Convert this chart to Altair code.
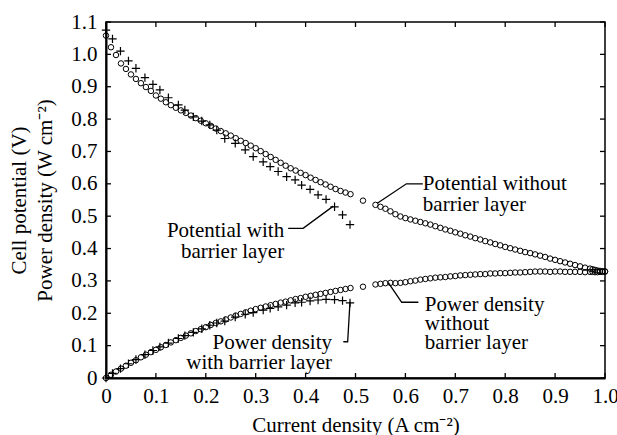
import altair as alt
import pandas as pd

# ---------------- data ----------------
# Without barrier layer (circles)
circ_x = [0.00, 0.01, 0.02, 0.03, 0.04, 0.05, 0.06, 0.07, 0.08, 0.09,
          0.10, 0.11, 0.12, 0.13, 0.14, 0.15, 0.16, 0.17, 0.18, 0.19,
          0.20, 0.21, 0.22, 0.23, 0.24, 0.25, 0.26, 0.27, 0.28, 0.29,
          0.30, 0.31, 0.32, 0.33, 0.34, 0.35, 0.36, 0.37, 0.38, 0.39,
          0.40, 0.41, 0.42, 0.43, 0.44, 0.45, 0.46, 0.47, 0.48, 0.49,
          0.515, 0.54,
          0.55, 0.56, 0.57, 0.58, 0.59,
          0.60, 0.61, 0.62, 0.63, 0.64, 0.65, 0.66, 0.67, 0.68, 0.69,
          0.70, 0.71, 0.72, 0.73, 0.74, 0.75, 0.76, 0.77, 0.78, 0.79,
          0.80, 0.81, 0.82, 0.83, 0.84, 0.85, 0.86, 0.87, 0.88, 0.89,
          0.90, 0.91, 0.92, 0.93, 0.94, 0.95, 0.96, 0.97,
          0.975, 0.98, 0.985, 0.99, 0.995, 1.00]
circ_v = [1.058, 1.022, 0.998, 0.972, 0.955, 0.938, 0.924, 0.911, 0.899, 0.887,
          0.873, 0.863, 0.852, 0.843, 0.835, 0.827, 0.819, 0.811, 0.803, 0.795,
          0.787, 0.779, 0.771, 0.763, 0.756, 0.749, 0.741, 0.733, 0.726, 0.718,
          0.710, 0.701, 0.692, 0.683, 0.674, 0.665, 0.656, 0.648, 0.641, 0.634,
          0.627, 0.619, 0.612, 0.605, 0.598, 0.591, 0.584, 0.578, 0.573, 0.568,
          0.548, 0.535,
          0.529, 0.523, 0.515, 0.506, 0.499,
          0.494, 0.490, 0.486, 0.482, 0.478, 0.474, 0.469, 0.464, 0.459, 0.455,
          0.450, 0.446, 0.441, 0.437, 0.432, 0.428, 0.423, 0.419, 0.414, 0.410,
          0.405, 0.401, 0.397, 0.393, 0.389, 0.386, 0.382, 0.378, 0.374, 0.369,
          0.365, 0.361, 0.357, 0.353, 0.349, 0.345, 0.341, 0.338,
          0.336, 0.334, 0.332, 0.331, 0.330, 0.329]
circ_p = [0.000, 0.010, 0.020, 0.029, 0.038, 0.047, 0.055, 0.064, 0.072, 0.080,
          0.087, 0.095, 0.102, 0.110, 0.117, 0.124, 0.131, 0.138, 0.145, 0.151,
          0.157, 0.164, 0.170, 0.175, 0.181, 0.187, 0.193, 0.198, 0.203, 0.208,
          0.213, 0.217, 0.221, 0.225, 0.229, 0.233, 0.236, 0.240, 0.244, 0.247,
          0.251, 0.254, 0.257, 0.260, 0.263, 0.266, 0.269, 0.272, 0.275, 0.278,
          0.282, 0.289,
          0.291, 0.293, 0.294, 0.293, 0.294,
          0.296, 0.299, 0.301, 0.304, 0.306, 0.308, 0.310, 0.311, 0.312, 0.314,
          0.315, 0.317, 0.318, 0.319, 0.320, 0.321, 0.321, 0.323, 0.323, 0.324,
          0.324, 0.325, 0.326, 0.326, 0.327, 0.328, 0.329, 0.329, 0.329, 0.328,
          0.329, 0.329, 0.328, 0.328, 0.328, 0.328, 0.327, 0.328,
          0.328, 0.327, 0.327, 0.328, 0.328, 0.329]

# With barrier layer (crosses)
cross_x = [0.000, 0.013, 0.029, 0.045, 0.060, 0.078, 0.094, 0.108, 0.125, 0.145,
           0.158, 0.175, 0.192, 0.208, 0.222, 0.238, 0.259, 0.279, 0.295, 0.315,
           0.329, 0.345, 0.362, 0.379, 0.392, 0.409, 0.425, 0.441, 0.458, 0.474,
           0.489]
cross_v = [1.075, 1.048, 1.010, 0.980, 0.957, 0.928, 0.907, 0.890, 0.866, 0.844,
           0.828, 0.807, 0.794, 0.782, 0.766, 0.740, 0.725, 0.705, 0.684, 0.668,
           0.653, 0.638, 0.622, 0.612, 0.596, 0.583, 0.566, 0.552, 0.529, 0.504,
           0.474]
cross_p = [0.000, 0.014, 0.029, 0.044, 0.057, 0.072, 0.085, 0.096, 0.108, 0.122,
           0.131, 0.141, 0.152, 0.163, 0.170, 0.176, 0.188, 0.197, 0.202, 0.210,
           0.215, 0.220, 0.225, 0.232, 0.234, 0.238, 0.241, 0.243, 0.242, 0.239,
           0.232]

x_ticks = [0.0, 0.1, 0.2, 0.3, 0.4, 0.5, 0.6, 0.7, 0.8, 0.9, 1.0]
y_ticks = [0.0, 0.1, 0.2, 0.3, 0.4, 0.5, 0.6, 0.7, 0.8, 0.9, 1.0, 1.1]

x_title = "Current density (A cm\u207b\u00b2)"
y_title = ["Cell potential (V)", "Power density (W cm\u207b\u00b2)"]

# annotations: text (lines split by \n), anchor in data coordinates (first baseline)
ann_text = ["Potential without\nbarrier layer",
            "Potential with\nbarrier layer",
            "Power density\nwith barrier layer",
            "Power density\nwithout\nbarrier layer"]
ann_x = [0.635, 0.357, 0.453, 0.639]
ann_y = [0.581, 0.437, 0.0896, 0.207]
ann_align = ["left", "right", "right", "left"]
ann_lh = [21, 21, 20, 19]

# leader lines
lead_id = [1, 1, 1, 2, 2, 2, 3, 3, 3, 4, 4, 4]
lead_ord = [0, 1, 2, 0, 1, 2, 0, 1, 2, 0, 1, 2]
lead_x = [0.635, 0.602, 0.5437, 0.365, 0.395, 0.4555, 0.4756, 0.4843, 0.489, 0.626, 0.5926, 0.5657]
lead_y = [0.600, 0.600, 0.540, 0.4626, 0.4626, 0.531, 0.112, 0.112, 0.236, 0.234, 0.234, 0.2945]

# ---------------- tables ----------------
circ_df = pd.DataFrame({"x": circ_x * 2, "y": circ_v + circ_p})
cross_df = pd.DataFrame({"x": cross_x * 2, "y": cross_v + cross_p})
lead_df = pd.DataFrame({"id": lead_id, "o": lead_ord, "x": lead_x, "y": lead_y})
xt_df = pd.DataFrame({"x": x_ticks, "y0": [0.0] * len(x_ticks), "y1": [1.1] * len(x_ticks)})
yt_df = pd.DataFrame({"y": y_ticks, "x0": [0.0] * len(y_ticks), "x1": [1.0] * len(y_ticks)})

FONT = "Liberation Serif"
FS = 21
W, H = 499, 356
TL = 5  # tick length

XS = alt.Scale(domain=[0, 1], nice=False, zero=False)
YS = alt.Scale(domain=[0, 1.1], nice=False, zero=False)

lab_expr = "datum.value == 0 ? '0' : format(datum.value, '.1f')"

x_axis = alt.Axis(values=x_ticks, labelExpr=lab_expr, labelPadding=7, ticks=False,
                  domain=True, domainWidth=2, grid=False, labelFlush=False,
                  title=x_title, titleX=W / 2, titleY=47, titleAlign="center",
                  titleBaseline="middle")
y_axis = alt.Axis(values=y_ticks, labelExpr=lab_expr, labelPadding=9, ticks=False,
                  domain=True, domainWidth=2, grid=False, labelFlush=False,
                  title=y_title, titleX=-87, titleY=H / 2, titleAngle=270,
                  titleAlign="center", titleBaseline="middle", titleLineHeight=26)


def X(field):
    return alt.X(field, type="quantitative", scale=XS, axis=x_axis)


def Y(field):
    return alt.Y(field, type="quantitative", scale=YS, axis=y_axis)


circles = alt.Chart(circ_df).mark_point(shape="circle", size=30, filled=False,
                                        color="black", strokeWidth=1, opacity=1).encode(
    x=X("x"), y=Y("y"))

crosses = alt.Chart(cross_df).mark_point(shape="M-1,0H1M0,-1V1", size=70, filled=False,
                                         color="black", strokeWidth=1.2, opacity=1).encode(
    x=X("x"), y=Y("y"))

tick_style = dict(color="black", strokeWidth=1.3)
left_ticks = alt.Chart(yt_df).mark_rule(x2Offset=TL, **tick_style).encode(
    y=Y("y"), x=X("x0"), x2="x0")
right_ticks = alt.Chart(yt_df).mark_rule(x2Offset=-TL, **tick_style).encode(
    y=Y("y"), x=X("x1"), x2="x1")
bottom_ticks = alt.Chart(xt_df).mark_rule(y2Offset=-TL, **tick_style).encode(
    x=X("x"), y=Y("y0"), y2="y0")
top_ticks = alt.Chart(xt_df).mark_rule(y2Offset=TL, **tick_style).encode(
    x=X("x"), y=Y("y1"), y2="y1")

leaders = alt.Chart(lead_df).mark_line(color="black", strokeWidth=1.3).encode(
    x=X("x"), y=Y("y"), detail="id:N", order="o:Q")

texts = []
for t, ax, ay, al, lh in zip(ann_text, ann_x, ann_y, ann_align, ann_lh):
    df = pd.DataFrame({"text": [t], "x": [ax], "y": [ay]})
    texts.append(
        alt.Chart(df).mark_text(
            align=al, baseline="alphabetic", font=FONT, fontSize=FS, color="black",
            lineBreak="\n", lineHeight=lh).encode(
            x=X("x"), y=Y("y"), text="text:N")
    )

chart = alt.layer(circles, crosses, left_ticks, right_ticks, bottom_ticks, top_ticks,
                  leaders, *texts).properties(
    width=W, height=H,
    padding={"left": 106, "top": 22, "right": 12, "bottom": 57},
    autosize=alt.AutoSizeParams(type="none"),
    background="white",
).configure_view(
    stroke="black", strokeWidth=1.5
).configure_axis(
    labelFont=FONT, labelFontSize=FS, labelColor="black",
    titleFont=FONT, titleFontSize=FS, titleFontWeight="normal", titleColor="black",
    domainColor="black",
).configure_text(font=FONT)

chart.save("out.html", embed_options={"renderer": "svg", "actions": False})
